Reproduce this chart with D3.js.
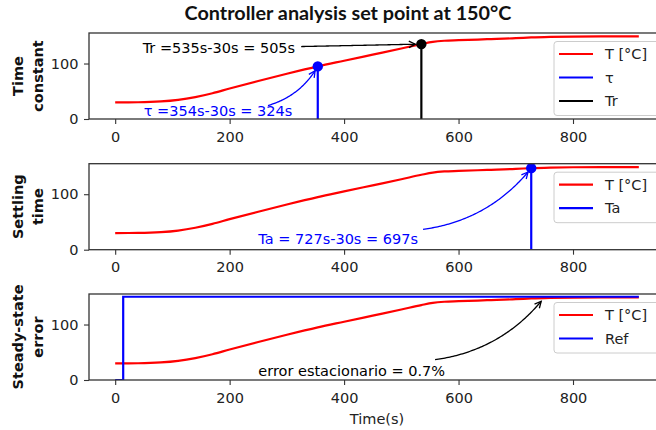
<!DOCTYPE html>
<html>
<head>
<meta charset="utf-8">
<script src="https://cdn.jsdelivr.net/npm/d3@7"></script>
<style>
  body { margin: 0; background: #fff; }
  svg { display: block; }
  text { font-family: "DejaVu Sans", sans-serif; }
</style>
</head>
<body>
<svg id="chart" width="656" height="430"></svg>
<script>
// Measured oven temperature (°C) against time (s)
const timeS = [0, 40, 80, 110, 140, 170, 200, 250, 300, 354, 400, 450, 500, 535, 555, 575, 600, 650, 700, 727, 760, 800, 850, 915];
const tempC = [30, 30.2, 31.6, 34.5, 39.5, 46.5, 55, 68.5, 81.5, 94.8, 105, 116, 127, 135, 139, 141, 142, 143.8, 145.6, 147, 148, 148.6, 149, 149];

// Set-point (reference) signal
const refTime = [0, 14, 14, 915];
const refC = [0, 0, 150, 150];

// Characteristic points
const tauPoint = { t: 354, v: 94.8 };   // 63.2 % of 150 °C
const trPoint  = { t: 535, v: 135 };    // 90 % of 150 °C
const taPoint  = { t: 727, v: 147 };    // 98 % of 150 °C
const errPoint = { t: 750, v: 149 };

const xTicks = [0, 200, 400, 600, 800];
const yTicks = [0, 100];

const titleText = "Controller analysis set point at 150°C";
const xLabel = "Time(s)";
const panelLabels = [["Time", "constant"], ["Settling", "time"], ["Steady-state", "error"]];
const legendLabels = [["T [°C]", "τ", "Tr"], ["T [°C]", "Ta"], ["T [°C]", "Ref"]];

// Annotation texts with text anchor and arrow start, in data units
const notes = [
  { panel: 0, text: "Tr =535s-30s = 505s", color: "#000000", at: [48, 119], from: [325, 130.6], to: trPoint, rad: 0 },
  { panel: 0, text: "τ =354s-30s = 324s", color: "#0000ff", at: [50, 5.5], from: [267, 24.3], to: tauPoint, rad: -0.2 },
  { panel: 1, text: "Ta = 727s-30s = 697s", color: "#0000ff", at: [250, 11], from: [538, 36.7], to: taPoint, rad: -0.2 },
  { panel: 2, text: "error estacionario = 0.7%", color: "#000000", at: [250, 8], from: [559, 36.6], to: errPoint, rad: -0.2 }
];

const RED = "#ff0000", BLUE = "#0000ff", BLACK = "#000000";
const svg = d3.select("#chart");
svg.append("rect").attr("width", 656).attr("height", 430).attr("fill", "#fff");

const x = d3.scaleLinear().domain([-45.75, 960.75]).range([89, 665]);
const panelTops = [33, 163.7, 294];
const panelH = 86;
const tempSeries = timeS.map((t, i) => [t, tempC[i]]);
const refSeries = refTime.map((t, i) => [t, refC[i]]);

svg.append("text")
  .attr("x", 348).attr("y", 20)
  .attr("text-anchor", "middle")
  .style("font-family", "Lato, 'Open Sans', sans-serif")
  .style("font-weight", "bold")
  .style("font-size", "19.8px")
  .attr("fill", "#111")
  .text(titleText);

panelTops.forEach((top, p) => {
  const y = d3.scaleLinear().domain([0, 155]).range([top + panelH, top]);
  const g = svg.append("g");
  const clipId = "clip" + p;
  svg.append("clipPath").attr("id", clipId)
    .append("rect").attr("x", x.range()[0]).attr("y", top)
    .attr("width", x.range()[1] - x.range()[0]).attr("height", panelH);
  const plot = g.append("g").attr("clip-path", `url(#${clipId})`);
  const line = d3.line().x(d => x(d[0])).y(d => y(d[1]));
  const smooth = d3.line().x(d => x(d[0])).y(d => y(d[1])).curve(d3.curveMonotoneX);

  plot.append("path").datum(tempSeries).attr("d", smooth)
    .attr("fill", "none").attr("stroke", RED).attr("stroke-width", 2.2)
    .attr("stroke-linejoin", "round");

  const vline = (pt, color) => {
    plot.append("line")
      .attr("x1", x(pt.t)).attr("x2", x(pt.t))
      .attr("y1", y(0)).attr("y2", y(pt.v))
      .attr("stroke", color).attr("stroke-width", 2.2);
    plot.append("circle").attr("cx", x(pt.t)).attr("cy", y(pt.v)).attr("r", 5.2).attr("fill", color);
  };
  if (p === 0) { vline(tauPoint, BLUE); vline(trPoint, BLACK); }
  if (p === 1) { vline(taPoint, BLUE); }
  if (p === 2) {
    plot.append("path").datum(refSeries).attr("d", line)
      .attr("fill", "none").attr("stroke", BLUE).attr("stroke-width", 2.2);
  }

  // axes
  const xAxis = g.append("g").attr("transform", `translate(0,${top + panelH})`)
    .call(d3.axisBottom(x).tickValues(xTicks).tickSize(5).tickPadding(7.3));
  const yAxis = g.append("g").attr("transform", `translate(${x.range()[0]},0)`)
    .call(d3.axisLeft(y).tickValues(yTicks).tickSize(5).tickPadding(5.5));
  [xAxis, yAxis].forEach(a => {
    a.select(".domain").remove();
    a.selectAll("line").attr("stroke", "#333").attr("stroke-width", 1.1);
    a.selectAll("text").style("font-size", "14.5px").attr("fill", "#222")
      .style("font-family", "'DejaVu Sans', sans-serif");
  });

  // frame
  g.append("rect").attr("x", x.range()[0]).attr("y", top)
    .attr("width", x.range()[1] - x.range()[0]).attr("height", panelH)
    .attr("fill", "none").attr("stroke", "#333").attr("stroke-width", 1.3);

  // y label, two lines
  panelLabels[p].forEach((s, i) => {
    svg.append("text")
      .attr("transform", `translate(${[18, 38][i]},${top + panelH / 2}) rotate(-90)`)
      .attr("text-anchor", "middle").attr("dy", "0.36em")
      .style("font-weight", "bold").style("font-size", "14.5px").attr("fill", "#111")
      .text(s);
  });

  // legend
  const labels = legendLabels[p];
  const colors = p === 0 ? [RED, BLUE, BLACK] : [RED, BLUE];
  const lg = g.append("g").attr("transform", `translate(554,${top + 8.5})`);
  lg.append("rect").attr("x", 0).attr("y", 0).attr("width", 120)
    .attr("height", 23.5 * labels.length + 3.5).attr("rx", 3)
    .attr("fill", "#fff").attr("fill-opacity", 0.85).attr("stroke", "#cccccc").attr("stroke-width", 1);
  labels.forEach((s, i) => {
    const cy = 12.5 + i * 23.5;
    lg.append("line").attr("x1", 5).attr("x2", 39).attr("y1", cy).attr("y2", cy)
      .attr("stroke", colors[i]).attr("stroke-width", 2.2);
    lg.append("text").attr("x", 51).attr("y", cy).attr("dy", "0.36em")
      .style("font-size", "14.5px").attr("fill", "#222").text(s);
  });

  // annotations
  notes.filter(n => n.panel === p).forEach(n => {
    g.append("text").attr("x", x(n.at[0])).attr("y", y(n.at[1]))
      .style("font-size", "14.5px").attr("fill", n.color).text(n.text);
    const p0 = [x(n.from[0]), y(n.from[1])];
    const p1 = [x(n.to.t), y(n.to.v)];
    const mid = [(p0[0] + p1[0]) / 2, (p0[1] + p1[1]) / 2];
    const dx = p1[0] - p0[0], dy = p1[1] - p0[1];
    const c = [mid[0] + n.rad * dy, mid[1] - n.rad * dx];
    const pts = d3.range(0, 1.0001, 1 / 80).map(t => [
      (1 - t) * (1 - t) * p0[0] + 2 * t * (1 - t) * c[0] + t * t * p1[0],
      (1 - t) * (1 - t) * p0[1] + 2 * t * (1 - t) * c[1] + t * t * p1[1]
    ]).filter(q => Math.hypot(q[0] - p1[0], q[1] - p1[1]) >= 4.6);
    g.append("path").attr("d", d3.line()(pts)).attr("fill", "none")
      .attr("stroke", n.color).attr("stroke-width", 1.3);
    const tip = pts[pts.length - 1], prev = pts[pts.length - 4];
    const ang = Math.atan2(tip[1] - prev[1], tip[0] - prev[0]);
    const hl = 6.5, hw = 3.2;
    const back = [tip[0] - hl * Math.cos(ang), tip[1] - hl * Math.sin(ang)];
    const nx = -Math.sin(ang), ny = Math.cos(ang);
    g.append("path")
      .attr("d", `M${back[0] + hw * nx},${back[1] + hw * ny}L${tip[0]},${tip[1]}L${back[0] - hw * nx},${back[1] - hw * ny}`)
      .attr("fill", "none").attr("stroke", n.color).attr("stroke-width", 1.3);
  });
});

svg.append("text").attr("x", 377).attr("y", 424)
  .attr("text-anchor", "middle").style("font-size", "14.5px").attr("fill", "#222")
  .text(xLabel);
</script>
</body>
</html>
